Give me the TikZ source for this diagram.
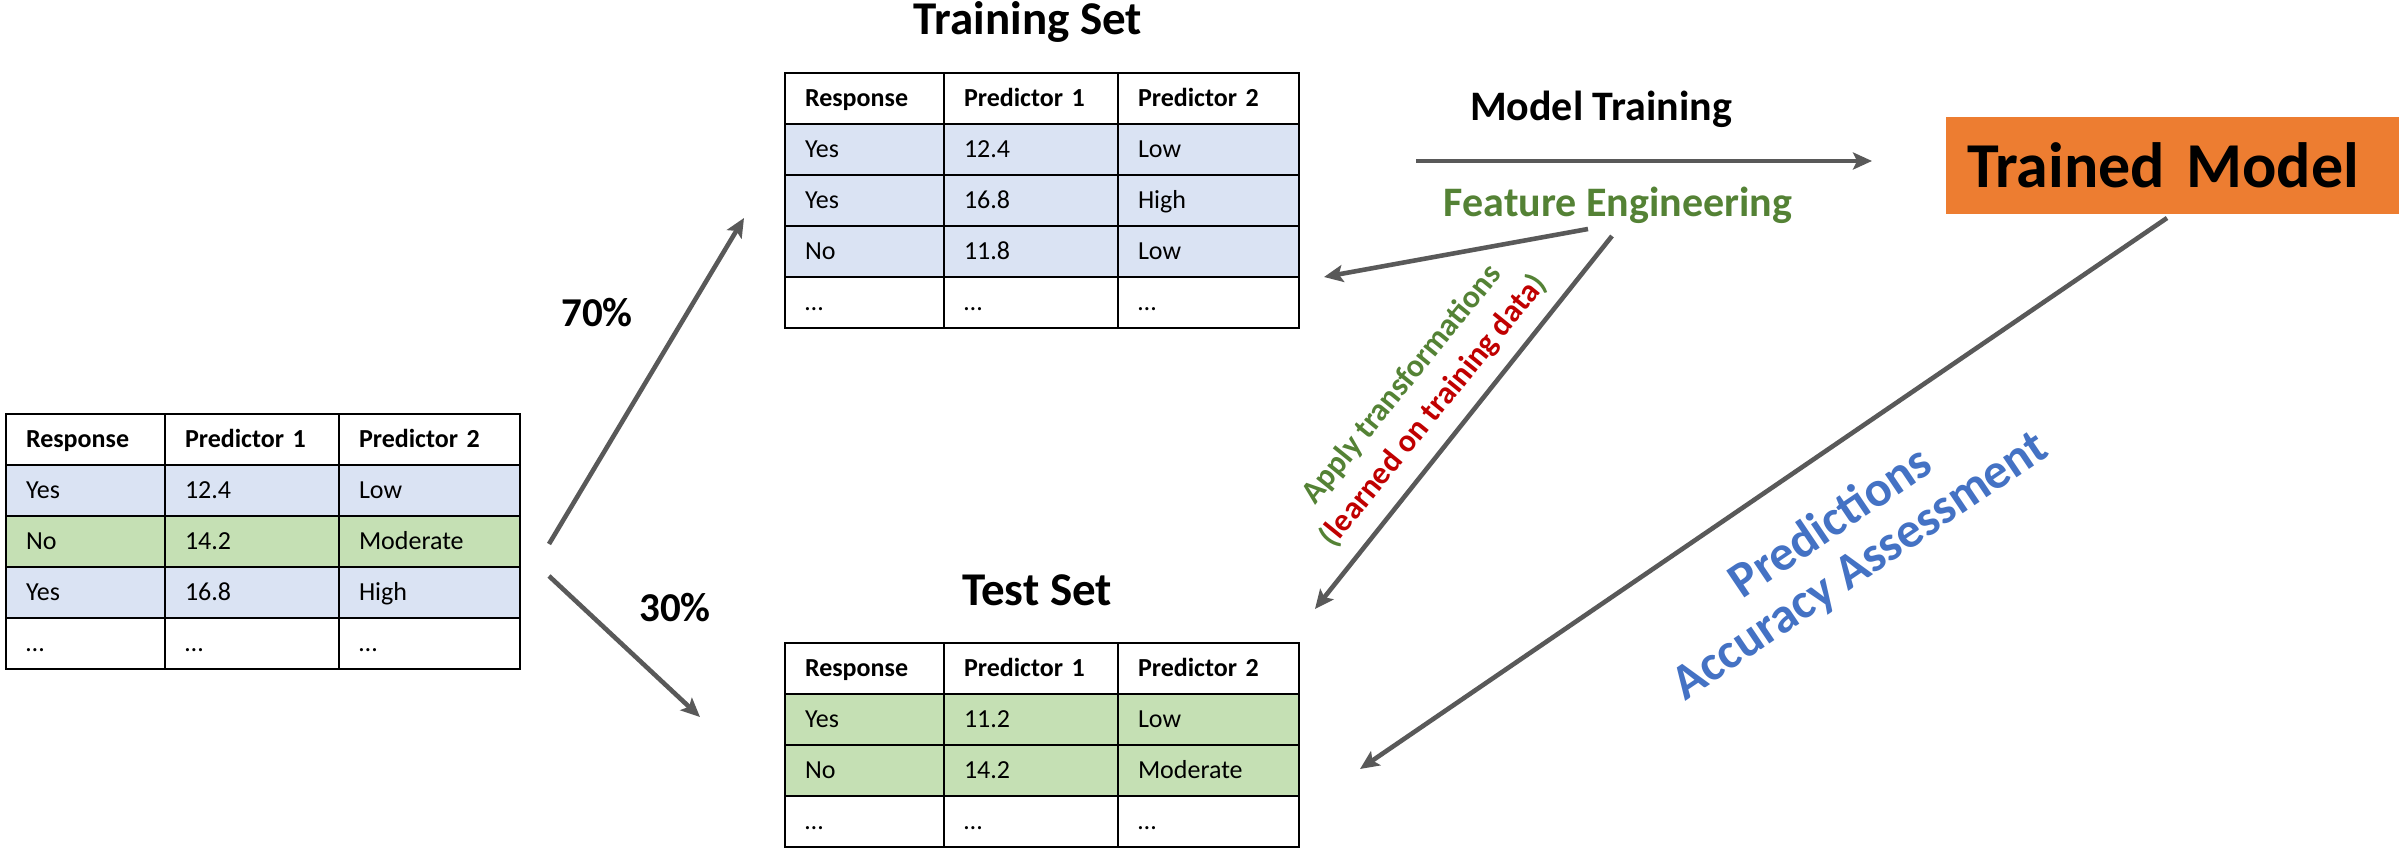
\documentclass[tikz,border=0pt]{standalone}
\usepackage{fontspec}
\setmainfont{Carlito}
\usetikzlibrary{arrows.meta,calc}

\definecolor{rowblue}{HTML}{DAE3F3}
\definecolor{rowgreen}{HTML}{C5E0B4}
\definecolor{arrowgray}{HTML}{595959}
\definecolor{fegreen}{HTML}{548235}
\definecolor{learnred}{HTML}{C00000}
\definecolor{accblue}{HTML}{4472C4}
\definecolor{modelorange}{HTML}{ED7D31}

% one table row: name, x, y (top left), fill, three cell texts
\newcommand\tabrow[7]{%
  \node[cell,fill=#4,text width=59.5pt] (#1-a) at (#2,#3) {#5};
  \node[cell,fill=#4,text width=67pt] (#1-b) at ([xshift=79.5pt]#1-a.north west) {#6};
  \node[cell,fill=#4,text width=70.5pt] (#1-c) at ([xshift=87pt]#1-b.north west) {#7};
}

\begin{document}
\begin{tikzpicture}[x=0.5pt,y=-0.5pt,
  cell/.style={draw=black,line width=1pt,anchor=north west,outer sep=0pt,
    minimum height=25.5pt,inner xsep=10pt,inner ysep=0pt,align=left,
    text height=10pt,text depth=2pt,font=\fontsize{13}{15}\selectfont},
  title/.style={font=\fontsize{23.5}{28}\selectfont\bfseries,anchor=base,inner sep=0pt},
  flowlabel/.style={font=\fontsize{21}{25}\selectfont\bfseries,anchor=base,inner sep=0pt},
  pct/.style={font=\fontsize{20.5}{24}\selectfont\bfseries,anchor=base,inner sep=0pt},
  arr/.style={draw=arrowgray,line width=2.3pt,
    -{Stealth[length=9.5pt,width=8.5pt,inset=2pt]}}]

\useasboundingbox[fill=white] (0,0) rectangle (2399,850);

% full data set
\tabrow{L0}{6}{414}{white}{\textbf{Response}}{\textbf{Predictor 1}}{\textbf{Predictor 2}}
\tabrow{L1}{6}{465}{rowblue}{Yes}{12.4}{Low}
\tabrow{L2}{6}{516}{rowgreen}{No}{14.2}{Moderate}
\tabrow{L3}{6}{567}{rowblue}{Yes}{16.8}{High}
\tabrow{L4}{6}{618}{white}{…}{…}{…}

% training set
\node[title] (trainT) at (1028,35) {Training Set};
\tabrow{T0}{785}{73}{white}{\textbf{Response}}{\textbf{Predictor 1}}{\textbf{Predictor 2}}
\tabrow{T1}{785}{124}{rowblue}{Yes}{12.4}{Low}
\tabrow{T2}{785}{175}{rowblue}{Yes}{16.8}{High}
\tabrow{T3}{785}{226}{rowblue}{No}{11.8}{Low}
\tabrow{T4}{785}{277}{white}{…}{…}{…}

% test set
\node[title] (testT) at (1037,605) {Test Set};
\tabrow{S0}{785}{643}{white}{\textbf{Response}}{\textbf{Predictor 1}}{\textbf{Predictor 2}}
\tabrow{S1}{785}{694}{rowgreen}{Yes}{11.2}{Low}
\tabrow{S2}{785}{745}{rowgreen}{No}{14.2}{Moderate}
\tabrow{S3}{785}{796}{white}{…}{…}{…}

% split percentages
\node[pct] (p70) at (597,327) {70\%};
\node[pct] (p30) at (675,621) {30\%};

% model side
\node[flowlabel] (mt) at (1601,121) {Model Training};
\node[flowlabel,text=fegreen] (fe) at (1618,217) {Feature Engineering};
\node[fill=modelorange,anchor=north west,outer sep=0pt,minimum height=48.5pt,
  text width=205.5pt,inner xsep=10.5pt,inner ysep=0pt,align=left,
  font=\fontsize{32}{38}\selectfont\bfseries] (tm) at (1946,117) {Trained Model};

\node[rotate=51,align=center,font=\fontsize{16}{20.5}\selectfont\bfseries] (apply)
  at (1418,398) {\textcolor{fegreen}{Apply transformations}\\
  \textcolor{fegreen}{(}\textcolor{learnred}{learned on training data}\textcolor{fegreen}{)}};

\node[rotate=34,align=center,text=accblue,font=\fontsize{25}{26}\selectfont\bfseries] (pred)
  at (1846,545) {Predictions\\Accuracy Assessment};

% connector end points
\coordinate (upS) at (549,544);
\coordinate (upE) at (744,218);
\coordinate (dnS) at (549,576);
\coordinate (dnE) at (700,717);
\coordinate (mtS) at (1416,161);
\coordinate (mtE) at (1872,161);
\coordinate (feA) at (1588,229);
\coordinate (feTr) at (1324,277);
\coordinate (feB) at (1612,236);
\coordinate (feTe) at (1315,609);
\coordinate (tmS) at (2167,218);
\coordinate (tmE) at (1360,769);

\draw[arr] (upS) -- (upE);
\draw[arr] (dnS) -- (dnE);
\draw[arr] (mtS) -- (mtE);
\draw[arr] (feA) -- (feTr);
\draw[arr] (feB) -- (feTe);
\draw[arr] (tmS) -- (tmE);

\end{tikzpicture}
\end{document}
